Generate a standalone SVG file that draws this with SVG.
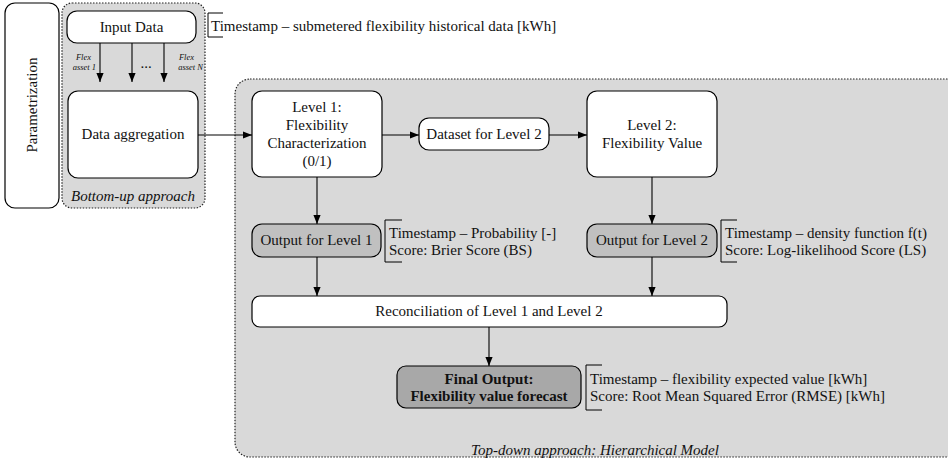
<svg xmlns="http://www.w3.org/2000/svg" width="948" height="463" viewBox="0 0 948 463">
  <style>
    .mid { text-anchor: middle; }
    .ital { font-style: italic; }
    .small { font-size: 8.5px; }
    .bold { font-weight: bold; }
    .box { fill: #fff; stroke: #000; stroke-width: 1.2; }
    .out { fill: #c0c0c0; stroke: #000; stroke-width: 1.2; }
    .final { fill: #a8a8a8; stroke: #000; stroke-width: 1.2; }
    .area { fill: #d9d9d9; stroke: #222; stroke-width: 1.2; stroke-dasharray: 1.5 1.5; }
    .brk { fill: none; stroke: #000; stroke-width: 1; }
    .edge { stroke: #000; stroke-width: 1.1; fill: none; marker-end: url(#arrow); }
  </style>
  <defs>
    <marker id="arrow" viewBox="0 0 10 10" refX="10" refY="5" markerWidth="9" markerHeight="9" markerUnits="userSpaceOnUse" orient="auto">
      <path d="M0,1 L10,5 L0,9 z" fill="#000"/>
    </marker>
  </defs>

  <g font-family="'Liberation Serif', 'DejaVu Serif', serif" font-size="15" fill="#111">

  <!-- background areas -->
  <g id="parametrization">
    <rect class="box" x="5" y="3" width="54" height="205" rx="10"/>
    <text class="mid" transform="translate(37,105) rotate(-90)">Parametrization</text>
  </g>
  <g id="bottom-up">
    <rect class="area" x="62" y="3" width="143" height="205" rx="10"/>
    <text class="mid ital" x="133" y="201">Bottom-up approach</text>
  </g>
  <g id="top-down">
    <rect class="area" x="235" y="79" width="730" height="378" rx="15"/>
    <text class="mid ital" x="595" y="455">Top-down approach: Hierarchical Model</text>
  </g>

  <!-- connectors -->
  <g id="connectors">
    <line class="edge" x1="100" y1="43" x2="100" y2="82"/>
    <line class="edge" x1="132" y1="43" x2="132" y2="82"/>
    <line class="edge" x1="164" y1="43" x2="164" y2="82"/>
    <line class="edge" x1="198" y1="135" x2="252" y2="135"/>
    <line class="edge" x1="382" y1="135" x2="419" y2="135"/>
    <line class="edge" x1="549" y1="135" x2="587" y2="135"/>
    <line class="edge" x1="317" y1="177" x2="317" y2="224"/>
    <line class="edge" x1="652" y1="177" x2="652" y2="224"/>
    <line class="edge" x1="317" y1="257" x2="317" y2="296"/>
    <line class="edge" x1="652" y1="257" x2="652" y2="296"/>
    <line class="edge" x1="489" y1="327" x2="489" y2="366"/>
  </g>

  <!-- connector labels -->
  <g id="flex-labels">
    <text class="ital small" x="91" y="60" text-anchor="end">Flex</text>
    <text class="ital small" x="96" y="70" text-anchor="end">asset 1</text>
    <text class="mid" x="146" y="68">...</text>
    <text class="ital small" x="194" y="60" text-anchor="end">Flex</text>
    <text class="ital small" x="203" y="70" text-anchor="end">asset N</text>
  </g>

  <g id="input-data">
    <rect class="box" x="67" y="11" width="129" height="32" rx="10"/>
    <text class="mid" x="131.5" y="32">Input Data</text>
  </g>
  <g id="input-note">
    <path class="brk" d="M223,13 H208 V37 H223"/>
    <text x="211" y="31">Timestamp – submetered flexibility historical data [kWh]</text>
  </g>

  <g id="data-aggregation">
    <rect class="box" x="68" y="91" width="130" height="87" rx="10"/>
    <text class="mid" x="133" y="139">Data aggregation</text>
  </g>

  <g id="level1">
    <rect class="box" x="252" y="91" width="130" height="86" rx="10"/>
    <text class="mid" x="317" y="112">Level 1:</text>
    <text class="mid" x="317" y="130">Flexibility</text>
    <text class="mid" x="317" y="148">Characterization</text>
    <text class="mid" x="317" y="166">(0/1)</text>
  </g>

  <g id="dataset-level2">
    <rect class="box" x="419" y="118" width="130" height="32" rx="10"/>
    <text class="mid" x="484" y="139">Dataset for Level 2</text>
  </g>

  <g id="level2">
    <rect class="box" x="587" y="91" width="130" height="86" rx="10"/>
    <text class="mid" x="652" y="130">Level 2:</text>
    <text class="mid" x="652" y="148">Flexibility Value</text>
  </g>

  <g id="output-level1">
    <rect class="out" x="252" y="224" width="129" height="33" rx="10"/>
    <text class="mid" x="316.5" y="245">Output for Level 1</text>
  </g>
  <g id="output-level1-note">
    <path class="brk" d="M402,220 H385 V262 H402"/>
    <text x="389" y="238">Timestamp – Probability [-]</text>
    <text x="389" y="255">Score: Brier Score (BS)</text>
  </g>

  <g id="output-level2">
    <rect class="out" x="587" y="224" width="130" height="33" rx="10"/>
    <text class="mid" x="652" y="245">Output for Level 2</text>
  </g>
  <g id="output-level2-note">
    <path class="brk" d="M737,220 H721 V262 H737"/>
    <text x="725" y="238">Timestamp – density function f(t)</text>
    <text x="725" y="255">Score: Log-likelihood Score (LS)</text>
  </g>

  <g id="reconciliation">
    <rect class="box" x="252" y="296" width="475" height="31" rx="8"/>
    <text class="mid" x="489" y="316">Reconciliation of Level 1 and Level 2</text>
  </g>

  <g id="final-output">
    <rect class="final" x="397" y="366" width="184" height="42" rx="9"/>
    <text class="mid bold" x="489" y="384">Final Output:</text>
    <text class="mid bold" x="489" y="401">Flexibility value forecast</text>
  </g>
  <g id="final-note">
    <path class="brk" d="M602,365 H586 V410 H602"/>
    <text x="590" y="384">Timestamp – flexibility expected value [kWh]</text>
    <text x="590" y="401">Score: Root Mean Squared Error (RMSE) [kWh]</text>
  </g>

  </g>
</svg>
